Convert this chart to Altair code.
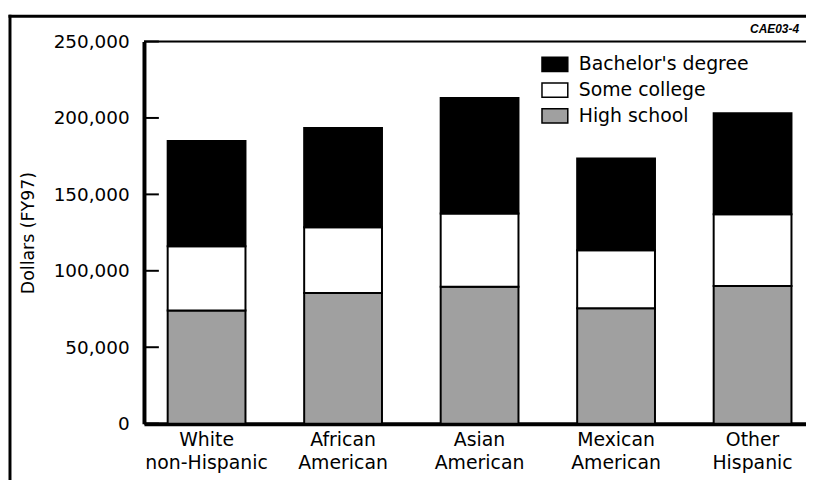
import altair as alt
import pandas as pd

categories = ["White non-Hispanic", "African American", "Asian American",
              "Mexican American", "Other Hispanic"]
high_school = [74000, 85500, 89500, 75500, 90000]
some_college = [42000, 43000, 48000, 38000, 47000]
bachelors = [69000, 65000, 75500, 60000, 66000]

levels = ["Bachelor's degree", "Some college", "High school"]
level_colors = ["#000000", "#ffffff", "#a0a0a0"]
y_ticks = [0, 50000, 100000, 150000, 200000, 250000]

rows = []
for i, c in enumerate(categories):
    rows.append({"group": c, "level": "High school", "value": high_school[i], "ord": 0})
    rows.append({"group": c, "level": "Some college", "value": some_college[i], "ord": 1})
    rows.append({"group": c, "level": "Bachelor's degree", "value": bachelors[i], "ord": 2})
df = pd.DataFrame(rows)

FONT = "DejaVu Sans"
W, H = 667, 385

yscale = alt.Scale(domain=[0, 250000], nice=False, zero=True)

bars = alt.Chart(df).mark_bar(stroke="black", strokeWidth=2).encode(
    x=alt.X("group:N", sort=categories,
            scale=alt.Scale(paddingInner=0.43, paddingOuter=0.14, align=0.62),
            axis=alt.Axis(title=None, ticks=False, domainWidth=4, domainColor="black",
                          labelAngle=0, labelFont=FONT, labelFontSize=19,
                          labelColor="black", labelPadding=7, labelLineHeight=23,
                          labelBaseline="top",
                          labelExpr="[substring(datum.value, 0, indexof(datum.value, ' ')), substring(datum.value, indexof(datum.value, ' ') + 1)]")),
    y=alt.Y("value:Q", stack="zero", scale=yscale,
            axis=alt.Axis(title="Dollars (FY97)", values=y_ticks, format=",d",
                          ticks=False, grid=False, domainWidth=4, domainColor="black",
                          labelFont=FONT, labelFontSize=18.5, labelColor="black",
                          labelPadding=15,
                          titleFont=FONT, titleFontSize=17.5, titleFontWeight="normal",
                          titleColor="black", titleX=-116, titleY=192.5,
                          titleAngle=270, titleAlign="center", titleBaseline="middle")),
    color=alt.Color("level:N", scale=alt.Scale(domain=levels, range=level_colors),
                    legend=alt.Legend(title=None, orient="none", legendX=400, legendY=9,
                                      symbolType="M-1,-0.55H1V0.55H-1Z", symbolSize=676,
                                      symbolStrokeColor="black", symbolStrokeWidth=1.5,
                                      labelFont=FONT, labelFontSize=19, labelColor="black",
                                      labelOffset=10, rowPadding=1, labelLimit=400)),
    order=alt.Order("ord:Q"),
)

tick_df = pd.DataFrame({"v": y_ticks})
ticks = alt.Chart(tick_df).mark_rule(color="black", strokeWidth=2).encode(
    y=alt.Y("v:Q", scale=yscale),
    x=alt.value(0), x2=alt.value(15),
)

one = pd.DataFrame({"a": [0]})
top_line = alt.Chart(one).mark_rule(color="black", strokeWidth=2).encode(
    x=alt.value(0), x2=alt.value(700), y=alt.value(0))
outer_top = alt.Chart(one).mark_rule(color="black", strokeWidth=3).encode(
    x=alt.value(-136.5), x2=alt.value(700), y=alt.value(-25.5))
outer_left = alt.Chart(one).mark_rule(color="black", strokeWidth=3).encode(
    x=alt.value(-135), y=alt.value(-27), y2=alt.value(480))
code_text = alt.Chart(pd.DataFrame({"t": ["CAE03-4"]})).mark_text(
    font="Liberation Sans", fontSize=12, fontStyle="italic", fontWeight="bold",
    align="right", baseline="middle", color="black").encode(
    text="t:N", x=alt.value(660), y=alt.value(-13))

chart = alt.layer(bars, ticks, top_line, outer_top, outer_left, code_text).properties(
    width=W, height=H,
    padding={"left": 137, "top": 32, "right": 0, "bottom": 55},
    autosize=alt.AutoSizeParams(type="none"),
).configure_view(strokeWidth=0).configure(background="white")

chart.save("out.html", embed_options={"renderer": "svg", "actions": False})
